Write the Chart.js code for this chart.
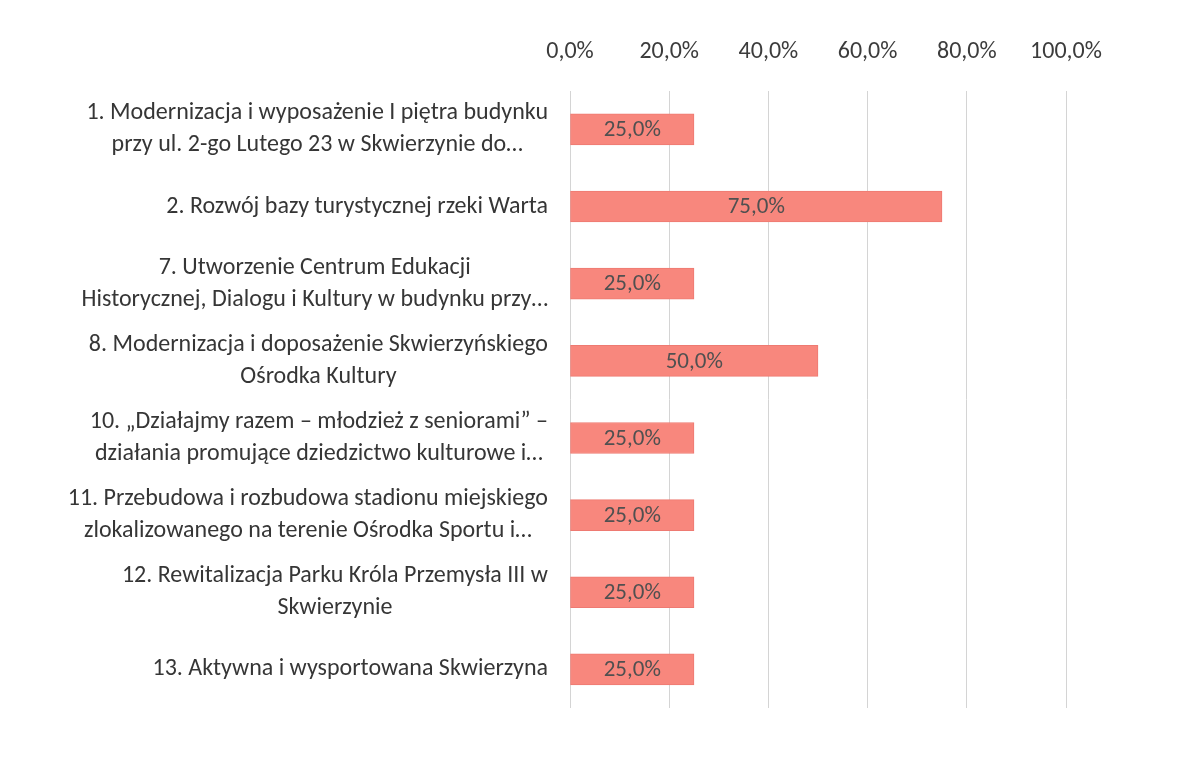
<!DOCTYPE html>
<html>
<head>
<meta charset="utf-8">
<script src="https://cdn.jsdelivr.net/npm/chart.js@4"></script>
<style>
html,body{margin:0;padding:0;background:#fff;}
#wrap{width:1199px;height:778px;position:relative;}
</style>
</head>
<body>
<div id="wrap"><canvas id="c" width="1199" height="778"></canvas></div>
<script>
const categories = [
  ["1. Modernizacja i wyposażenie I piętra budynku", "przy ul. 2-go Lutego 23 w Skwierzynie do…"],
  ["2. Rozwój bazy turystycznej rzeki Warta"],
  ["7. Utworzenie Centrum Edukacji", "Historycznej, Dialogu i Kultury w budynku przy…"],
  ["8. Modernizacja i doposażenie Skwierzyńskiego", "Ośrodka Kultury"],
  ["10. „Działajmy razem – młodzież z seniorami” –", "działania promujące dziedzictwo kulturowe i…"],
  ["11. Przebudowa i rozbudowa stadionu miejskiego", "zlokalizowanego na terenie Ośrodka Sportu i…"],
  ["12. Rewitalizacja Parku Króla Przemysła III w", "Skwierzynie"],
  ["13. Aktywna i wysportowana Skwierzyna"]
];
const values = [0.25, 0.75, 0.25, 0.50, 0.25, 0.25, 0.25, 0.25];
const tickValues = [0, 0.2, 0.4, 0.6, 0.8, 1.0];

const FONT = "Carlito, Lato, 'Open Sans', sans-serif";
const fmt = v => (v * 100).toFixed(1).replace('.', ',') + '%';

const bgPlugin = {
  id: 'bg',
  beforeDraw(chart) {
    const ctx = chart.ctx;
    ctx.save();
    ctx.fillStyle = '#ffffff';
    ctx.fillRect(0, 0, chart.width, chart.height);
    ctx.restore();
  }
};

const labelPlugin = {
  id: 'catLabels',
  afterDraw(chart) {
    const ctx = chart.ctx;
    const ys = chart.scales.y;
    const xs = chart.scales.x;
    ctx.save();
    ctx.font = "24px " + FONT;
    ctx.fillStyle = '#363636';
    ctx.textBaseline = 'middle';
    ctx.textAlign = 'center';
    const right = xs.left - 22;
    const lineH = 32;
    categories.forEach((lines, i) => {
      const cy = ys.getPixelForValue(i);
      const w = Math.max(...lines.map(l => ctx.measureText(l).width));
      const cx = right - w / 2;
      const y0 = cy - (lines.length - 1) * lineH / 2;
      lines.forEach((l, j) => ctx.fillText(l, cx, y0 + j * lineH));
    });
    // data labels
    ctx.font = "23px " + FONT;
    ctx.fillStyle = '#505050';
    const meta = chart.getDatasetMeta(0);
    meta.data.forEach((bar, i) => {
      const cx = (bar.x + bar.base) / 2;
      ctx.fillText(fmt(values[i]), cx, bar.y + 1);
    });
    ctx.restore();
  }
};

new Chart(document.getElementById('c'), {
  type: 'bar',
  data: {
    labels: categories.map(c => c.join(' ')),
    datasets: [{
      data: values,
      backgroundColor: '#f8877d',
      borderColor: '#ee7a72',
      borderWidth: 1,
      borderSkipped: false,
      barThickness: 31
    }]
  },
  options: {
    indexAxis: 'y',
    responsive: false,
    animation: false,
    layout: { padding: { left: 0, right: 133, top: 14, bottom: 70 } },
    plugins: { legend: { display: false }, tooltip: { enabled: false } },
    scales: {
      x: {
        position: 'top',
        min: 0, max: 1,
        afterBuildTicks(scale) { scale.ticks = tickValues.map(v => ({ value: v })); },
        ticks: {
          callback: v => fmt(v),
          color: '#3c3c3c',
          font: { family: FONT, size: 24 },
          padding: 24,
          maxRotation: 0
        },
        grid: { color: '#d4d4d4', drawTicks: false, lineWidth: 1 },
        border: { display: false }
      },
      y: {
        afterFit(scale) { scale.width = 570; },
        ticks: { display: false },
        grid: { display: false },
        border: { display: false }
      }
    }
  },
  plugins: [bgPlugin, labelPlugin]
});
</script>
</body>
</html>
